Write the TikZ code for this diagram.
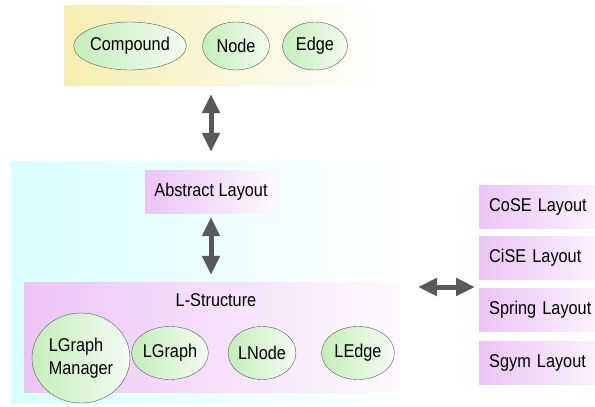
\documentclass[tikz,border=0pt]{standalone}
\usepackage{fontspec}
\setmainfont[FakeStretch=0.88]{Liberation Sans}
\usetikzlibrary{arrows.meta}
\usetikzlibrary{shapes,positioning}

\definecolor{ylw}{RGB}{244,238,178}
\definecolor{cyn}{RGB}{218,255,255}
\definecolor{lpink}{RGB}{236,196,246}
\definecolor{lgreen}{RGB}{196,238,186}
\definecolor{arrowgray}{RGB}{88,90,90}

\tikzset{
  panel/.style={rectangle, inner sep=0pt, draw=none},
  blob/.style={ellipse, draw=gray!70!black, thin, inner sep=0pt,
    left color=lgreen, right color=lgreen!20},
  layoutbox/.style={panel, left color=lpink, right color=lpink!12,
    minimum height=43pt, inner xsep=10pt, text width=112pt, align=left},
  dblarrow/.style={{Triangle[width=17pt,length=19pt]}-{Triangle[width=17pt,length=19pt]},
    line width=5pt, draw=arrowgray}
}

\begin{document}
\begin{tikzpicture}[x=1pt,y=-1pt,font=\fontsize{18.5}{22}\selectfont]

  \useasboundingbox (0,0) rectangle (595,407);

  % background panels
  \node[panel, left color=ylw, middle color=ylw!25, right color=white,
    minimum width=315pt, minimum height=80pt] (model) at (222,45) {};
  \node[panel, left color=cyn, right color=white,
    minimum width=404pt, minimum height=242pt] (chili) at (213,282) {};

  % model graph classes
  \node[blob, minimum width=105pt, minimum height=48pt] (compound) at (130,46) {Compound};
  \node[blob, minimum width=67pt, minimum height=48pt] (gnode) at (236,46) {Node};
  \node[blob, minimum width=65pt, minimum height=48pt] (gedge) at (315,46) {Edge};

  % abstract layout
  \node[panel, left color=lpink, right color=lpink!10,
    minimum width=132pt, minimum height=43pt] (abstract) at (211,191.5) {Abstract Layout};

  % l-structure
  \node[panel, left color=lpink, right color=lpink!8,
    minimum width=376pt, minimum height=110pt] (lstruct) at (212,337) {};
  \node (ltitle) at (216,300) {L-Structure};

  \node[blob, minimum width=98pt, minimum height=90pt, align=left] (lgm) at (81,358)
    {LGraph\\[1pt]Manager};
  \node[blob, minimum width=69pt, minimum height=53pt] (lgraph) at (170,353) {LGraph};
  \node[blob, minimum width=65pt, minimum height=53pt] (lnode) at (262,353) {LNode};
  \node[blob, minimum width=73pt, minimum height=53pt] (ledge) at (358,353) {LEdge};

  % layout styles
  \node[layoutbox, anchor=west] (cose) at (479,206.5) {CoSE Layout};
  \node[layoutbox, anchor=west] (cise) at (479,257.5) {CiSE Layout};
  \node[layoutbox, anchor=west] (spring) at (479,310) {Spring Layout};
  \node[layoutbox, anchor=west] (sgym) at (479,363) {Sgym Layout};

  % arrows
  \draw[dblarrow, shorten <=9pt, shorten >=18pt]
    (abstract.north |- model.south) -- (abstract.north);
  \draw[dblarrow, shorten <=4pt, shorten >=7pt]
    (abstract.south) -- (abstract.south |- lstruct.north);
  \coordinate (hleft) at (418,287);
  \draw[dblarrow, shorten >=4pt] (hleft) -- (hleft -| cose.west);

\end{tikzpicture}
\end{document}
